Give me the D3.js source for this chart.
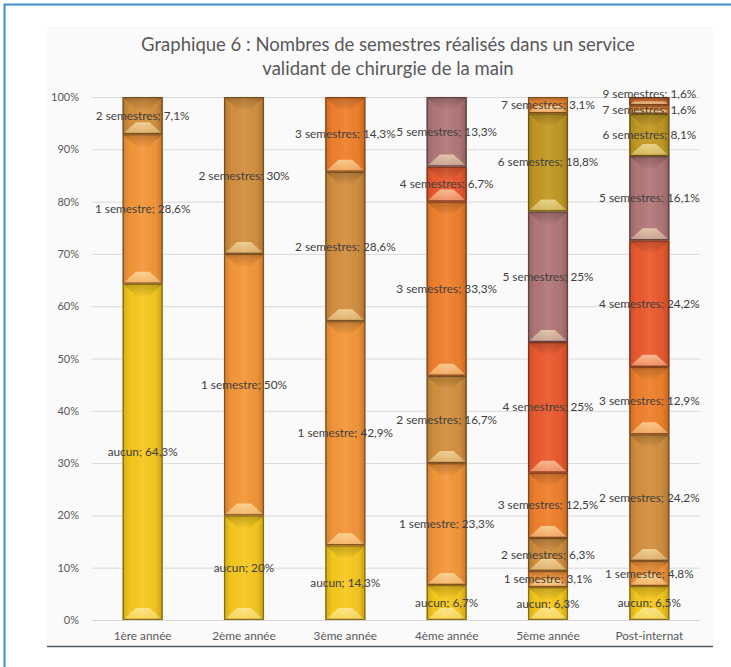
<!DOCTYPE html>
<html>
<head>
<meta charset="utf-8">
<script src="https://cdn.jsdelivr.net/npm/d3@7/dist/d3.min.js"></script>
<style>
  html, body { margin: 0; padding: 0; background: #ffffff; }
  svg { display: block; }
  text { font-family: Lato, "Open Sans", sans-serif; }
</style>
</head>
<body>
<svg id="chart" width="731" height="667"></svg>
<script>
// Cohort categories (x axis)
const categories = ["1ère année", "2ème année", "3ème année", "4ème année", "5ème année", "Post-internat"];

// Series: share of respondents per number of validated semesters (%)
const seriesNames = ["aucun", "1 semestre", "2 semestres", "3 semestres", "4 semestres",
                     "5 semestres", "6 semestres", "7 semestres", "9 semestres"];
const aucun      = [64.3, 20, 14.3, 6.7, 6.3, 6.5];
const semestre1  = [28.6, 50, 42.9, 23.3, 3.1, 4.8];
const semestres2 = [7.1, 30, 28.6, 16.7, 6.3, 24.2];
const semestres3 = [0, 0, 14.3, 33.3, 12.5, 12.9];
const semestres4 = [0, 0, 0, 6.7, 25, 24.2];
const semestres5 = [0, 0, 0, 13.3, 25, 16.1];
const semestres6 = [0, 0, 0, 0, 18.8, 8.1];
const semestres7 = [0, 0, 0, 0, 3.1, 1.6];
const semestres9 = [0, 0, 0, 0, 0, 1.6];

const seriesValues = [aucun, semestre1, semestres2, semestres3, semestres4,
                      semestres5, semestres6, semestres7, semestres9];

const seriesColors = ["#f7c91f", "#f5973a", "#d4903f", "#f0812d", "#ec5b30",
                      "#b27879", "#c29a24", "#ef8934", "#c6652b"];

const yTicks = [0, 0.1, 0.2, 0.3, 0.4, 0.5, 0.6, 0.7, 0.8, 0.9, 1];
const titleLines = ["Graphique 6 : Nombres de semestres réalisés dans un service",
                    "validant de chirurgie de la main"];

// Build a row per category for d3.stack
const table = categories.map((c, i) => {
  const row = { category: c };
  seriesNames.forEach((s, k) => { row[s] = seriesValues[k][i]; });
  return row;
});

const svg = d3.select("#chart");
const W = 731, H = 667;
const plot = { left: 92, right: 700, top: 97, bottom: 620 };

// Outer frame (blue) and chart area
svg.append("rect")
  .attr("x", 4.5).attr("y", 4.5).attr("width", W + 20).attr("height", H + 20)
  .attr("fill", "none").attr("stroke", "#3a8ed0").attr("stroke-width", 2);
svg.append("rect")
  .attr("x", 47).attr("y", 26).attr("width", 666).attr("height", 620)
  .attr("fill", "#fafafa");

const x = d3.scaleBand()
  .domain(categories)
  .range([plot.left, plot.right])
  .paddingInner(0.605)
  .paddingOuter(0.3025);

const y = d3.scaleLinear().domain([0, 1]).range([plot.bottom, plot.top]);

// Title
svg.append("g").selectAll("text").data(titleLines).join("text")
  .attr("x", 388)
  .attr("y", (d, i) => 51 + i * 24)
  .attr("text-anchor", "middle")
  .attr("fill", "#595959")
  .attr("font-size", 18.5)
  .text(d => d);

// Gridlines + y axis labels
const yAxis = d3.axisLeft(y).tickValues(yTicks).tickFormat(d3.format(".0%"))
  .tickSize(-(plot.right - plot.left)).tickPadding(13);
const gy = svg.append("g").attr("transform", `translate(${plot.left},0)`).call(yAxis);
gy.select(".domain").remove();
gy.selectAll(".tick line").attr("stroke", "#d9d9d9").attr("stroke-width", 1);
gy.selectAll(".tick text").attr("fill", "#595959").attr("font-size", 11)
  .attr("font-family", "Lato, 'Open Sans', sans-serif");

// X axis labels
const xAxis = d3.axisBottom(x).tickSize(0).tickPadding(12);
const gx = svg.append("g").attr("transform", `translate(0,${plot.bottom})`).call(xAxis);
gx.select(".domain").remove();
gx.selectAll(".tick text").attr("fill", "#595959").attr("font-size", 11.8)
  .attr("font-family", "Lato, 'Open Sans', sans-serif");

// Bottom rule of the chart area
svg.append("line")
  .attr("x1", 47).attr("x2", 713).attr("y1", 646.5).attr("y2", 646.5)
  .attr("stroke", "#4f5962").attr("stroke-width", 1.5);

// Stacked (100%) layout
const stack = d3.stack().keys(seriesNames).offset(d3.stackOffsetExpand);
const layers = stack(table);

// Gradients for the bevelled bar look
const defs = svg.append("defs");
const sideGrad = defs.append("linearGradient").attr("id", "sideShade")
  .attr("x1", "0").attr("x2", "1").attr("y1", "0").attr("y2", "0");
[[0, "#000", 0.16], [0.18, "#000", 0.02], [0.5, "#fff", 0.06], [0.82, "#000", 0.03], [1, "#000", 0.2]]
  .forEach(([o, c, a]) => sideGrad.append("stop").attr("offset", o).attr("stop-color", c).attr("stop-opacity", a));
const topGrad = defs.append("linearGradient").attr("id", "topShade")
  .attr("x1", "0").attr("x2", "0").attr("y1", "0").attr("y2", "1");
[[0, "#000", 0.2], [1, "#000", 0.03]]
  .forEach(([o, c, a]) => topGrad.append("stop").attr("offset", o).attr("stop-color", c).attr("stop-opacity", a));
const botGrad = defs.append("linearGradient").attr("id", "botShine")
  .attr("x1", "0").attr("x2", "0").attr("y1", "0").attr("y2", "1");
[[0, "#fff6c8", 0.6], [1, "#fff6c8", 0.3]]
  .forEach(([o, c, a]) => botGrad.append("stop").attr("offset", o).attr("stop-color", c).attr("stop-opacity", a));

const bw = x.bandwidth();
const barsG = svg.append("g");
const labels = [];

layers.forEach((layer, k) => {
  const color = seriesColors[k];
  const edge = d3.color(color).darker(1.7).formatHex();
  layer.forEach((seg, i) => {
    const value = seriesValues[k][i];
    if (!value) return;
    const x0 = x(categories[i]);
    const yTop = y(seg[1]);
    const yBot = y(seg[0]);
    const h = yBot - yTop;
    const g = barsG.append("g");
    g.append("rect").attr("x", x0).attr("y", yTop).attr("width", bw).attr("height", h)
      .attr("fill", color);
    g.append("rect").attr("x", x0).attr("y", yTop).attr("width", bw).attr("height", h)
      .attr("fill", "url(#sideShade)");
    const d = Math.min(12, h / 2.2);
    const dx = Math.min(bw * 0.33, d * 1.15);
    // upper bevel face
    g.append("path")
      .attr("d", `M${x0},${yTop}H${x0 + bw}L${x0 + bw - dx},${yTop + d}H${x0 + dx}Z`)
      .attr("fill", "url(#topShade)");
    // lower bevel face (highlight)
    g.append("path")
      .attr("d", `M${x0},${yBot}H${x0 + bw}L${x0 + bw - dx},${yBot - d}H${x0 + dx}Z`)
      .attr("fill", "url(#botShine)");
    g.append("rect").attr("x", x0 + 0.6).attr("y", yTop + 0.6)
      .attr("width", bw - 1.2).attr("height", Math.max(0, h - 1.2))
      .attr("fill", "none").attr("stroke", edge).attr("stroke-width", 1.3);
    labels.push({
      series: k, cat: i,
      text: `${seriesNames[k]}; ${String(value).replace(".", ",")}%`,
      x: x0 + bw / 2,
      y: (yTop + yBot) / 2
    });
  });
});

// Keep stacked labels in a bar from colliding: push upper ones up
const minGap = 16;
categories.forEach((c, i) => {
  const inBar = labels.filter(l => l.cat === i).sort((a, b) => b.y - a.y);
  for (let j = 1; j < inBar.length; j++) {
    if (inBar[j - 1].y - inBar[j].y < minGap) inBar[j].y = inBar[j - 1].y - minGap;
  }
});

svg.append("g").selectAll("text").data(labels).join("text")
  .attr("x", d => d.x)
  .attr("y", d => d.y)
  .attr("dy", "0.35em")
  .attr("text-anchor", "middle")
  .attr("fill", "#404040")
  .attr("font-size", 11.8)
  .text(d => d.text);
</script>
</body>
</html>
